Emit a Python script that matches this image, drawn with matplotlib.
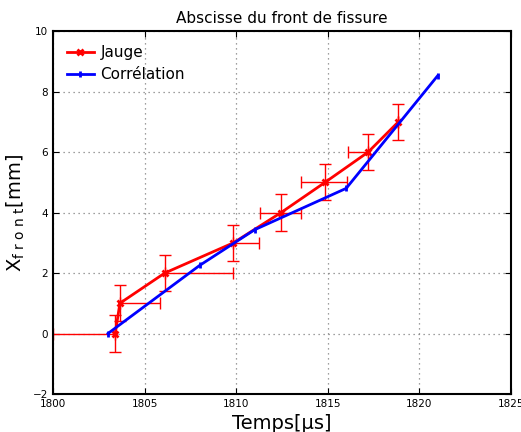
import matplotlib
matplotlib.use('Agg')
import matplotlib.pyplot as plt
import numpy as np

# Jauge (gauge) measurements
t_jauge = [1803.4, 1803.65, 1806.1, 1809.85, 1812.45, 1814.85, 1817.2, 1818.85]
x_jauge = [0, 1, 2, 3, 4, 5, 6, 7]
xerr_left = [3.4, 0, 0, 0, 1.15, 1.3, 1.1, 0]
xerr_right = [0, 2.2, 3.7, 1.4, 1.1, 1.2, 0, 0]
yerr_jauge = [0.6, 0.6, 0.6, 0.6, 0.6, 0.6, 0.6, 0.6]

# Correlation measurements
t_corr = [1803.0, 1808.0, 1811.0, 1816.0, 1821.0]
x_corr = [0.0, 2.25, 3.43, 4.8, 8.53]

fig = plt.figure(figsize=(5.21, 4.32), dpi=100)
ax = fig.add_axes([0.1017, 0.088, 0.8793, 0.840])

ax.errorbar(t_jauge, x_jauge, xerr=[xerr_left, xerr_right], yerr=yerr_jauge,
            fmt='none', ecolor='red', elinewidth=1, capsize=4, capthick=1)
ax.plot(t_jauge, x_jauge, color='red', lw=2, marker='x', ms=4, mew=2, label='Jauge')
ax.plot(t_corr, x_corr, color='blue', lw=2, marker='|', ms=5, mew=2, label='Corrélation')

ax.set_xlim(1800, 1825)
ax.set_ylim(-2, 10)
ax.set_xticks([1800, 1805, 1810, 1815, 1820, 1825])
ax.set_yticks([-2, 0, 2, 4, 6, 8, 10])
ax.tick_params(direction='in', top=True, right=True, labelsize=7.5, length=4)
ax.grid(True, linestyle=(0, (1, 3)), color='gray', lw=0.9)
for s in ax.spines.values():
    s.set_linewidth(1.5)

ax.set_title('Abscisse du front de fissure', fontsize=11)
ax.set_xlabel('Temps[µs]', fontsize=14)
ax.set_ylabel(r'X$_\mathregular{f\ r\ o\ n\ t}$[mm]', fontsize=14)
ax.legend(loc='upper left', frameon=False, numpoints=1, fontsize=11,
          handlelength=1.8, handletextpad=0.4)

plt.savefig('out.png', dpi=100)
